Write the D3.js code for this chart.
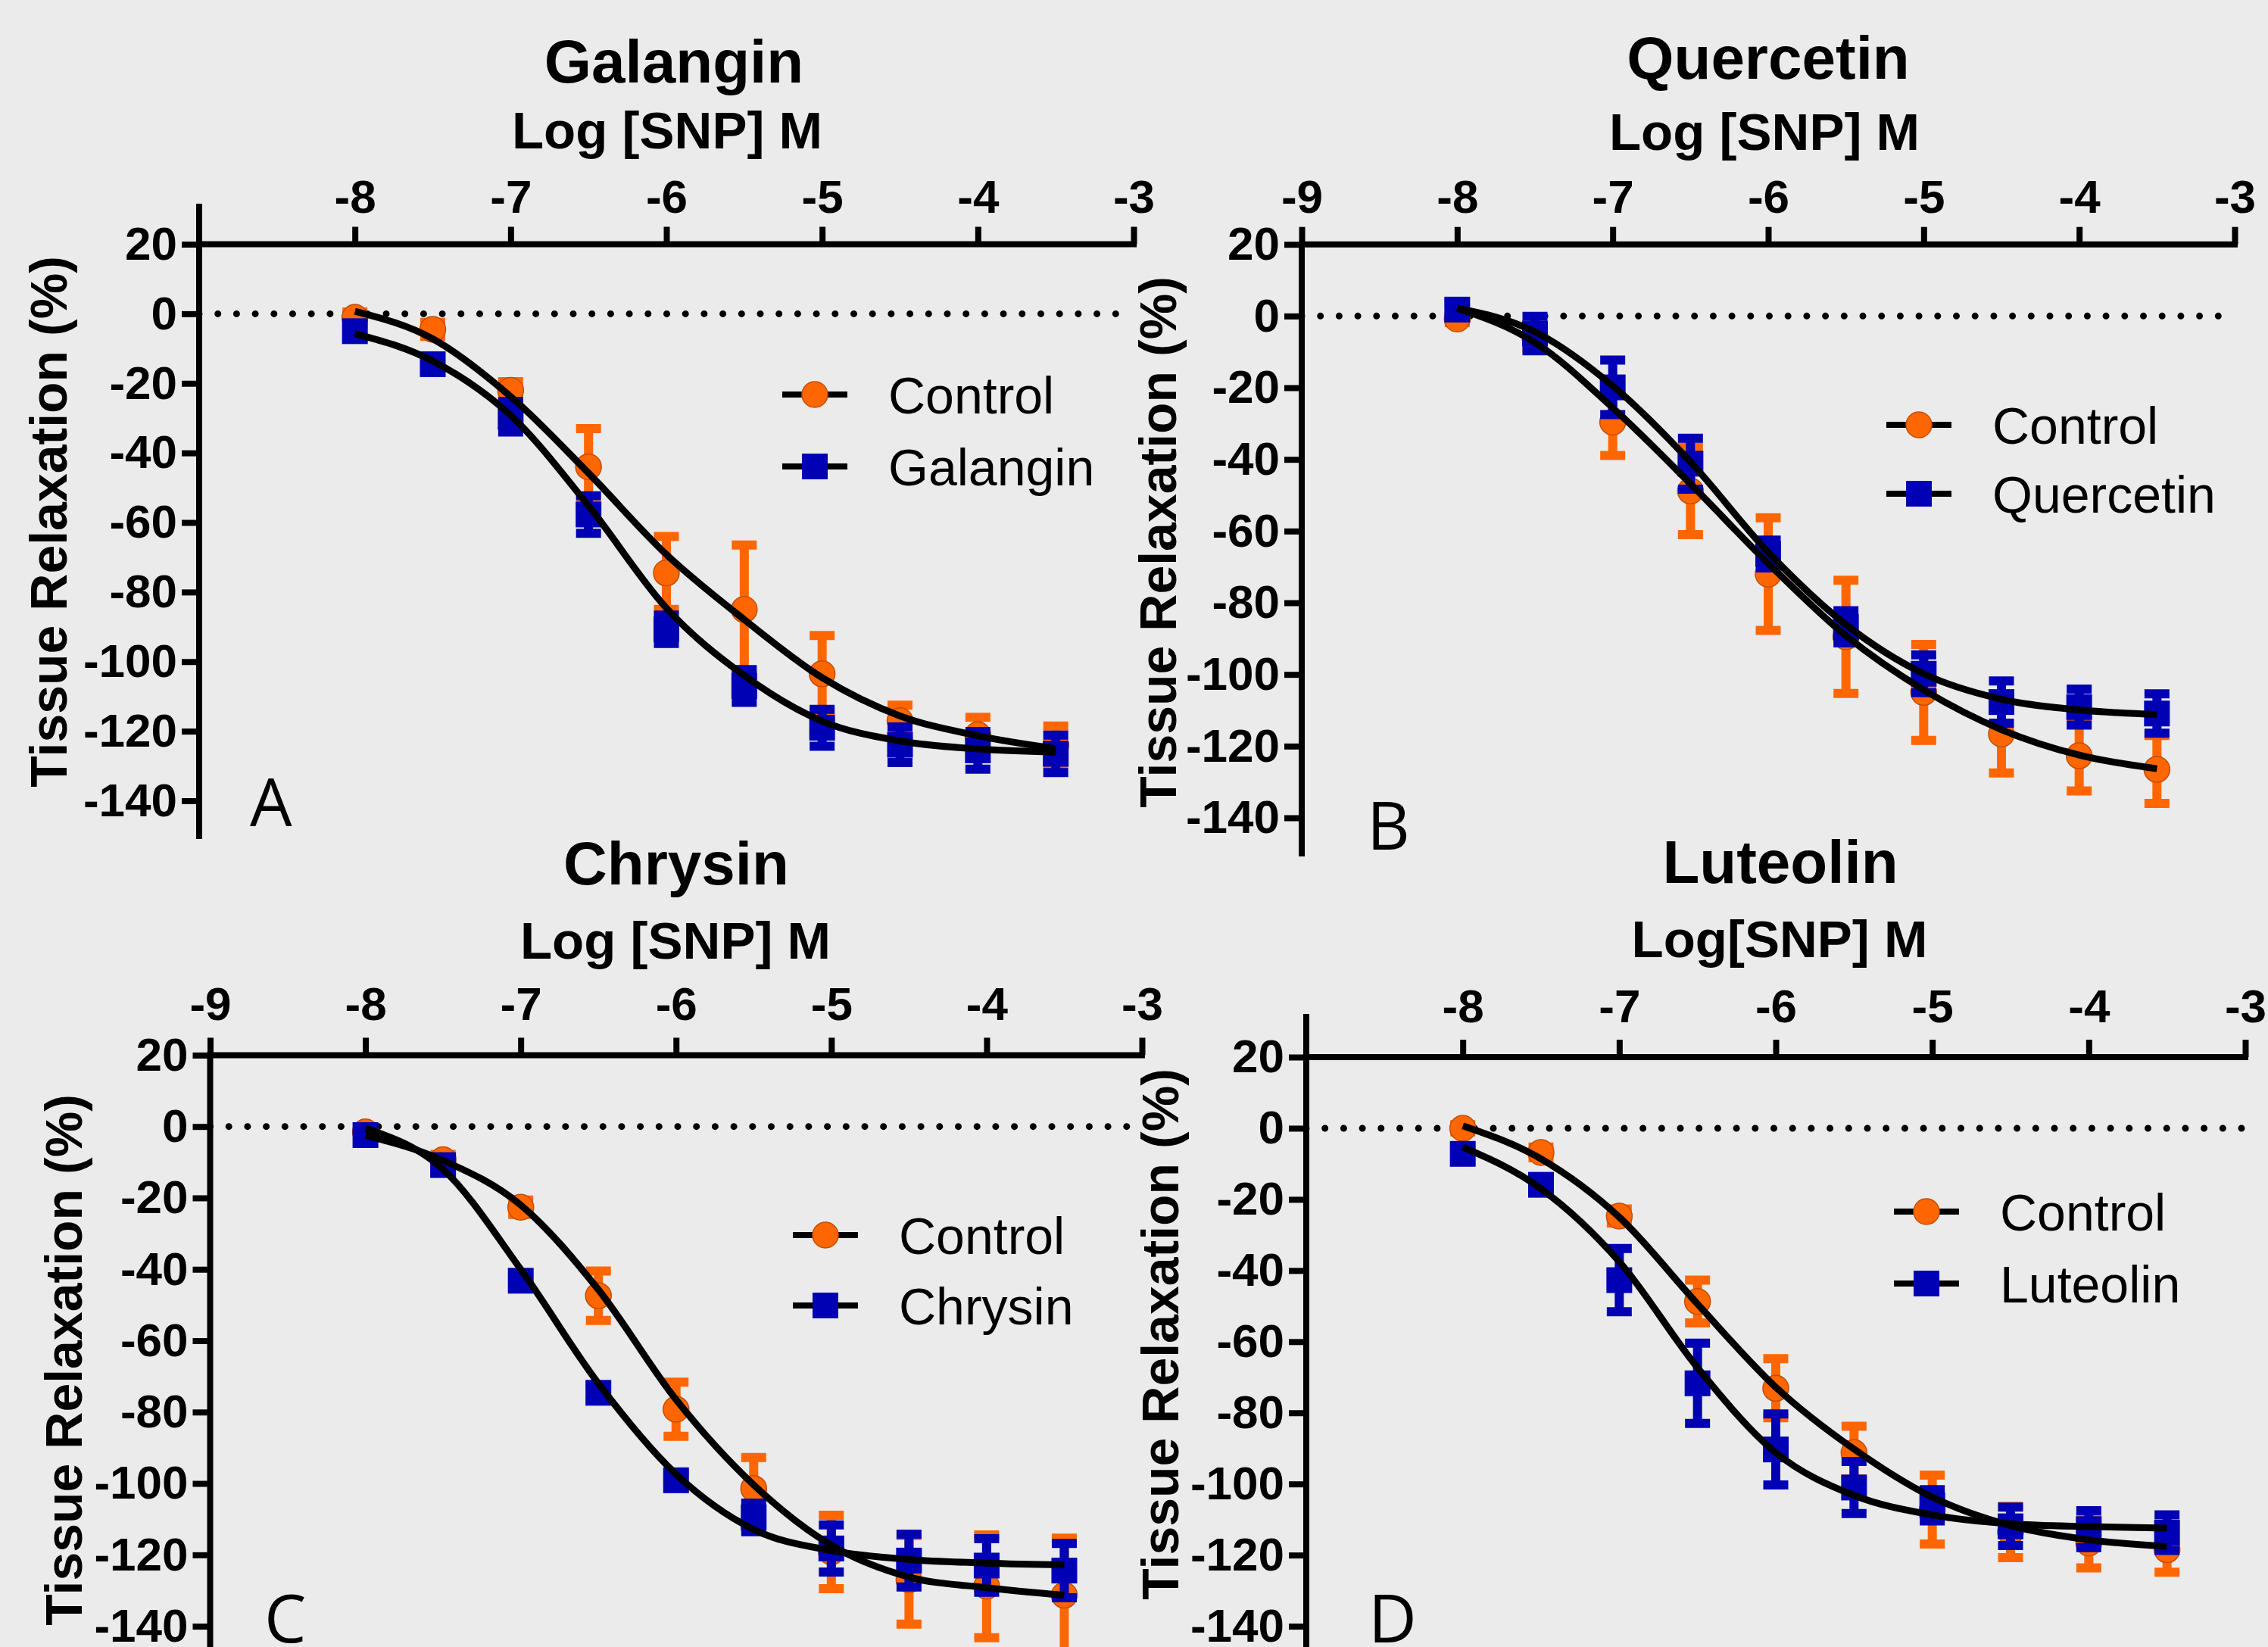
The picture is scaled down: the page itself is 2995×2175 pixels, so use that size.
<!DOCTYPE html>
<html>
<head>
<meta charset="utf-8">
<script src="https://cdn.jsdelivr.net/npm/d3@7"></script>
<style>
  body { margin: 0; background: #ebebeb; }
  svg { display: block; }
</style>
</head>
<body>
<div id="chart"></div>
<script>
// log [SNP] M for every point of every curve
const doses = [-8, -7.5, -7, -6.5, -6, -5.5, -5, -4.5, -4, -3.5]
const xTicks = [-9, -8, -7, -6, -5, -4, -3]
const yTicks = [20, 0, -20, -40, -60, -80, -100, -120, -140]

// A - Galangin
const galControl = [-1, -4.5, -22, -44, -74.5, -85, -103.5, -117, -121, -124]
const galControlSem = [1.5, 2, 2.5, 11, 10.5, 18.5, 11, 4.5, 5, 5.5]
const galControlFit = [0.7, -7.2, -23.8, -45.8, -69.2, -87.9, -104.6, -115.6, -121.3, -125]
const galangin = [-5, -14.5, -29.6, -57.7, -90.7, -107, -119, -123.9, -125.5, -126.5]
const galanginSem = [2, 2, 4.4, 5.4, 4.1, 4.7, 5.3, 5.1, 5.4, 5.4]
const galanginFit = [-5.7, -13.6, -29.2, -55.2, -84.6, -104, -117.1, -122.8, -125.1, -126]

// B - Quercetin
const queControl = [-0.8, -6, -29.6, -48.8, -72, -89.5, -105, -116.6, -122.7, -126.5]
const queControlSem = [1, 3, 9.3, 12.2, 15.7, 15.8, 13.4, 10.9, 9.8, 9.5]
const queControlFit = [2.2, -7.4, -25.6, -46.8, -69, -89.2, -104.3, -115.4, -122.5, -126.3]
const quercetin = [1.8, -4.9, -19.9, -41.2, -66.4, -86.7, -99.8, -107.7, -109.1, -110.9]
const quercetinSem = [2, 4.8, 7.6, 7.1, 3.9, 4.5, 5.3, 5.9, 5, 5.5]
const quercetinFit = [2.2, -4.4, -19.5, -40.7, -65.9, -86.1, -99.8, -106.9, -109.9, -111.2]

// C - Chrysin
const chrControl = [-1.5, -9.3, -22.6, -47.4, -79.2, -101.4, -119.2, -127, -128.8, -131.3]
const chrControlSem = [1, 1.5, 2, 6.9, 7.6, 8.7, 10.3, 12.4, 14.4, 16]
const chrControlFit = [-2.5, -9.5, -22, -45.7, -76.5, -100.4, -117.3, -126.2, -129.2, -131.3]
const chrysin = [-2.4, -10.8, -43.2, -74.6, -99.1, -109.5, -118.2, -121.6, -123, -124.4]
const chrysinSem = [2, 2, 2, 2, 2, 4, 6.6, 7.4, 7.5, 7.6]
const chrysinFit = [-0.5, -12, -40, -72, -97.4, -112.9, -118.8, -121.3, -122.3, -122.8]

// D - Luteolin
const lutControl = [0, -6.8, -24.7, -48.7, -73.1, -91.2, -107.2, -113.5, -116.6, -118.5]
const lutControlSem = [1, 1.5, 2, 6, 8.3, 7.4, 9.7, 7.2, 7, 6.3]
const lutControlFit = [0.7, -8.6, -25, -49.4, -72.8, -90.2, -103.7, -111.7, -115.7, -117.6]
const luteolin = [-7.2, -15.9, -42.7, -71.7, -90.3, -101, -106, -111.9, -112.7, -113.7]
const luteolinSem = [2, 2, 8.9, 11.3, 10, 7.3, 4.4, 5.4, 5.2, 5]
const luteolinFit = [-5.3, -17, -37.5, -67.3, -91.2, -103.2, -108.7, -111.2, -112, -112.4]

const width = 2995
const height = 2175
const orange = '#ff6600'
const blue = '#0000b4'
const font = "'Liberation Sans', Arial, sans-serif"

const panels = [
  {
    title: 'Galangin', xLabel: 'Log [SNP] M', letter: 'A', drug: 'Galangin',
    control: galControl, controlSem: galControlSem, controlFit: galControlFit,
    treated: galangin, treatedSem: galanginSem, treatedFit: galanginFit,
    xRange: [263, 1497], yRange: [322.5, 1057.5], axisTop: 273, axisBottom: 1104,
    ticks: xTicks.slice(1), titleX: 890, titleY: 109, xLabelX: 881, xLabelY: 196, tickY: 281,
    yLabelX: 88, yLabelY: 689, legendX: 1033, legendY: [521, 616], letterX: 330, letterY: 1091
  },
  {
    title: 'Quercetin', xLabel: 'Log [SNP] M', letter: 'B', drug: 'Quercetin',
    control: queControl, controlSem: queControlSem, controlFit: queControlFit,
    treated: quercetin, treatedSem: quercetinSem, treatedFit: quercetinFit,
    xRange: [1719, 2951], yRange: [322.7, 1080], axisTop: 322.7, axisBottom: 1127,
    ticks: xTicks, titleX: 2335, titleY: 104, xLabelX: 2330, xLabelY: 198, tickY: 281,
    yLabelX: 1553, yLabelY: 716, legendX: 2491, legendY: [561, 652], letterX: 1805, letterY: 1122
  },
  {
    title: 'Chrysin', xLabel: 'Log [SNP] M', letter: 'C', drug: 'Chrysin',
    control: chrControl, controlSem: chrControlSem, controlFit: chrControlFit,
    treated: chrysin, treatedSem: chrysinSem, treatedFit: chrysinFit,
    xRange: [277.5, 1508], yRange: [1393.4, 2147.6], axisTop: 1393.4, axisBottom: 2185,
    ticks: xTicks, titleX: 893, titleY: 1168, xLabelX: 892, xLabelY: 1266, tickY: 1347,
    yLabelX: 108, yLabelY: 1796, legendX: 1047, legendY: [1631, 1724], letterX: 349, letterY: 2169
  },
  {
    title: 'Luteolin', xLabel: 'Log[SNP] M', letter: 'D', drug: 'Luteolin',
    control: lutControl, controlSem: lutControlSem, controlFit: lutControlFit,
    treated: luteolin, treatedSem: luteolinSem, treatedFit: luteolinFit,
    xRange: [1725, 2965], yRange: [1396, 2147.6], axisTop: 1343, axisBottom: 2185,
    ticks: xTicks.slice(1), titleX: 2351, titleY: 1166, xLabelX: 2350, xLabelY: 1264, tickY: 1350,
    yLabelX: 1556, yLabelY: 1762, legendX: 2501, legendY: [1600, 1695], letterX: 1807, letterY: 2169
  }
]

const svg = d3.select('#chart')
  .append('svg')
  .attr('width', width)
  .attr('height', height)

svg.append('rect')
  .attr('width', width)
  .attr('height', height)
  .attr('fill', '#ebebeb')

function drawMarker (sel, shape, color) {
  if (shape === 'circle') {
    sel.append('circle')
      .attr('r', 17)
      .attr('fill', color)
      .attr('stroke', '#c44e00')
      .attr('stroke-width', 1.5)
  } else {
    sel.append('rect')
      .attr('x', -17)
      .attr('y', -17)
      .attr('width', 34)
      .attr('height', 34)
      .attr('fill', color)
  }
}

function drawSeries (g, x, y, values, sem, color, shape) {
  const pts = values.map((v, i) => ({ x: doses[i], v, e: sem[i] }))

  const bars = g.append('g')
    .attr('stroke', color)
    .attr('stroke-width', 12)
    .selectAll('g')
    .data(pts)
    .join('g')
  bars.append('line')
    .attr('x1', d => x(d.x)).attr('x2', d => x(d.x))
    .attr('y1', d => y(d.v + d.e)).attr('y2', d => y(d.v - d.e))
  bars.selectAll('line.cap')
    .data(d => [[d.x, d.v + d.e], [d.x, d.v - d.e]])
    .join('line')
    .attr('class', 'cap')
    .attr('x1', d => x(d[0]) - 16.5).attr('x2', d => x(d[0]) + 16.5)
    .attr('y1', d => y(d[1])).attr('y2', d => y(d[1]))

  g.append('g')
    .selectAll('g')
    .data(pts)
    .join('g')
    .attr('transform', d => `translate(${x(d.x)}, ${y(d.v)})`)
    .call(drawMarker, shape, color)
}

function drawPanel (p) {
  const x = d3.scaleLinear([-9, -3], p.xRange)
  const y = d3.scaleLinear([20, -140], p.yRange)
  const g = svg.append('g')

  // dotted zero line
  g.append('line')
    .attr('x1', x(-9)).attr('x2', x(-3))
    .attr('y1', y(0)).attr('y2', y(0))
    .attr('stroke', '#000')
    .attr('stroke-width', 9)
    .attr('stroke-linecap', 'round')
    .attr('stroke-dasharray', '0 24.7')

  drawSeries(g, x, y, p.control, p.controlSem, orange, 'circle')
  drawSeries(g, x, y, p.treated, p.treatedSem, blue, 'square')

  const line = d3.line()
    .x((d, i) => x(doses[i]))
    .y(d => y(d))
    .curve(d3.curveMonotoneX)

  g.selectAll('path.fit')
    .data([p.controlFit, p.treatedFit])
    .join('path')
    .attr('class', 'fit')
    .attr('d', line)
    .attr('fill', 'none')
    .attr('stroke', '#000')
    .attr('stroke-width', 9)

  // axes
  const xAxis = d3.axisTop(x)
    .tickValues(p.ticks)
    .tickSize(23)
    .tickPadding(y(20) - 23 - p.tickY)
    .tickFormat(d => String(d))

  const yAxis = d3.axisLeft(y)
    .tickValues(yTicks)
    .tickSize(23)
    .tickPadding(6)
    .tickFormat(d => String(d))

  const gx = g.append('g')
    .attr('transform', `translate(0, ${y(20)})`)
    .call(xAxis)
  const gy = g.append('g')
    .attr('transform', `translate(${x(-9)}, 0)`)
    .call(yAxis)

  for (const ax of [gx, gy]) {
    ax.select('.domain').remove()
    ax.selectAll('line').attr('stroke', '#000').attr('stroke-width', 8)
    ax.selectAll('text')
      .attr('fill', '#000')
      .style('font-family', font)
      .style('font-weight', 'bold')
      .style('font-size', '62px')
  }
  ax = null

  g.append('line')
    .attr('x1', x(-9)).attr('x2', x(-3))
    .attr('y1', y(20)).attr('y2', y(20))
    .attr('stroke', '#000').attr('stroke-width', 8).attr('stroke-linecap', 'square')
  g.append('line')
    .attr('x1', x(-9)).attr('x2', x(-9))
    .attr('y1', p.axisTop).attr('y2', p.axisBottom)
    .attr('stroke', '#000').attr('stroke-width', 8).attr('stroke-linecap', 'square')

  // texts
  g.append('text')
    .attr('x', p.titleX).attr('y', p.titleY)
    .attr('text-anchor', 'middle')
    .style('font-family', font).style('font-weight', 'bold').style('font-size', '80px')
    .text(p.title)

  g.append('text')
    .attr('x', p.xLabelX).attr('y', p.xLabelY)
    .attr('text-anchor', 'middle')
    .style('font-family', font).style('font-weight', 'bold').style('font-size', '69px')
    .text(p.xLabel)

  g.append('text')
    .attr('transform', `translate(${p.yLabelX}, ${p.yLabelY}) rotate(-90)`)
    .attr('text-anchor', 'middle')
    .style('font-family', font).style('font-weight', 'bold').style('font-size', '68px')
    .text('Tissue Relaxation (%)')

  g.append('text')
    .attr('x', p.letterX).attr('y', p.letterY)
    .style('font-family', "'Open Sans', 'Noto Sans', sans-serif").style('font-size', '88px')
    .text(p.letter)

  // legend
  const legend = g.append('g')
    .selectAll('g')
    .data([['Control', 'circle', orange], [p.drug, 'square', blue]])
    .join('g')
    .attr('transform', (d, i) => `translate(${p.legendX}, ${p.legendY[i]})`)
  legend.append('line')
    .attr('x1', 0).attr('x2', 86)
    .attr('stroke', '#000').attr('stroke-width', 8)
  legend.append('g')
    .attr('transform', 'translate(43, 0)')
    .each(function (d) { d3.select(this).call(drawMarker, d[1], d[2]) })
  legend.append('text')
    .attr('x', 140).attr('y', 25)
    .style('font-family', font).style('font-size', '68px')
    .text(d => d[0])
}

var ax
panels.forEach(drawPanel)
</script>
</body>
</html>
